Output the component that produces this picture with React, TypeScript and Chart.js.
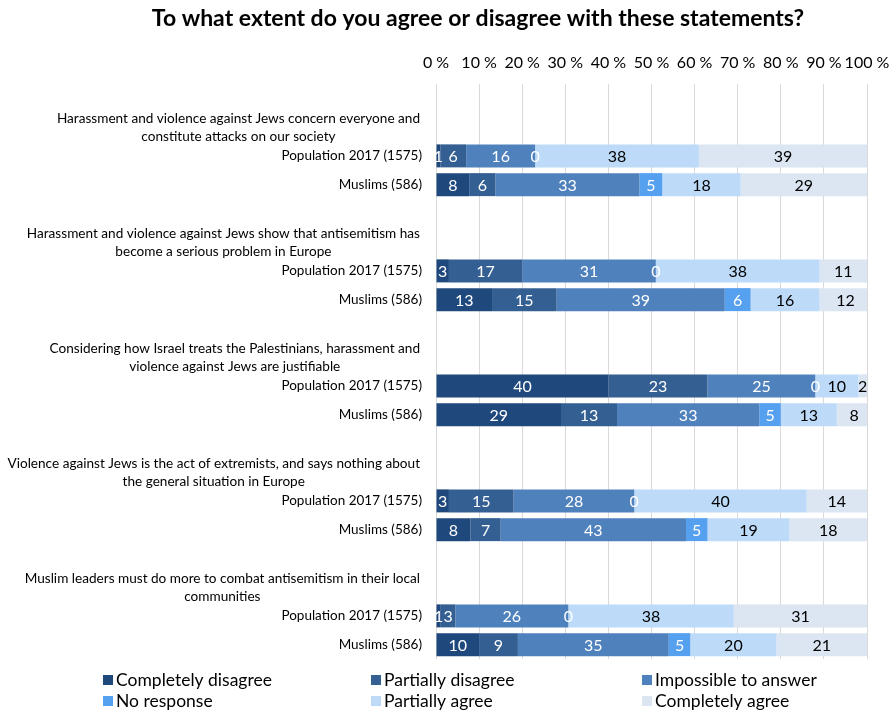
import { useEffect, useRef } from 'react';
import { Chart, registerables } from 'chart.js';

Chart.register(...registerables);

const FONT = 'Lato, "Noto Sans", sans-serif';

const chartTitle = 'To what extent do you agree or disagree with these statements?';

const statements: string[][] = [
  ['Harassment and violence against Jews concern everyone and', 'constitute attacks on our society'],
  ['Harassment and violence against Jews show that antisemitism has', 'become a serious problem in Europe'],
  ['Considering how Israel treats the Palestinians, harassment and', 'violence against Jews are justifiable'],
  ['Violence against Jews is the act of extremists, and says nothing about', 'the general situation in Europe'],
  ['Muslim leaders must do more to combat antisemitism in their local', 'communities'],
];

const groupLabels = ['Population 2017 (1575)', 'Muslims (586)'];

const seriesNames = [
  'Completely disagree',
  'Partially disagree',
  'Impossible to answer',
  'No response',
  'Partially agree',
  'Completely agree',
];

// rows: [S1 pop, S1 mus, S2 pop, S2 mus, ...] (percent, shown rounded)
const completelyDisagree = [1, 7.7, 3, 13, 40, 29, 3, 8, 1.1, 10];
const partiallyDisagree = [6, 6.1, 17, 15, 23, 13, 15, 7, 3.4, 9];
const impossibleToAnswer = [16, 33.4, 31, 39, 25, 33, 28, 43, 26.2, 35];
const noResponse = [0, 5.3, 0, 6, 0, 5, 0, 5, 0, 5];
const partiallyAgree = [38, 18.2, 38, 16, 10, 13, 40, 19, 38.4, 20];
const completelyAgree = [39, 29.3, 11, 12, 2, 8, 14, 18, 30.9, 21];

const xTicks = [0, 10, 20, 30, 40, 50, 60, 70, 80, 90, 100];

const seriesColors = ['#1f487c', '#345f92', '#4f81bd', '#56a0f0', '#bddbf8', '#dce6f2'];
const labelColors = ['#ffffff', '#ffffff', '#ffffff', '#ffffff', '#000000', '#000000'];

export default function App() {
  const ref = useRef<HTMLCanvasElement>(null);

  useEffect(() => {
    document.body.style.margin = '0';
    const canvas = ref.current;
    if (!canvas) return;

    const labels: string[] = [];
    statements.forEach(() => {
      labels.push('', '', groupLabels[0], groupLabels[1]);
    });
    const expand = (arr: number[]) => {
      const out: (number | null)[] = [];
      for (let g = 0; g < statements.length; g++) {
        out.push(null, null, arr[2 * g], arr[2 * g + 1]);
      }
      return out;
    };
    const seriesValues = [
      completelyDisagree,
      partiallyDisagree,
      impossibleToAnswer,
      noResponse,
      partiallyAgree,
      completelyAgree,
    ];

    const datasets = seriesNames.map((name, i) => ({
      label: name,
      data: expand(seriesValues[i]),
      backgroundColor: seriesColors[i],
      borderWidth: 0,
      categoryPercentage: 1,
      barPercentage: 0.8,
    }));

    const titlePlugin = {
      id: 'customTitle',
      afterDraw(chart: any) {
        const ctx = chart.ctx;
        ctx.save();
        ctx.font = `bold 23px ${FONT}`;
        ctx.fillStyle = '#000';
        ctx.textAlign = 'center';
        ctx.textBaseline = 'middle';
        ctx.fillText(chartTitle, 478, 19);
        ctx.restore();
      },
    };

    const headingPlugin = {
      id: 'headings',
      afterDraw(chart: any) {
        const ctx = chart.ctx;
        const yScale = chart.scales.y;
        ctx.save();
        ctx.font = `13.6px ${FONT}`;
        ctx.fillStyle = '#000';
        ctx.textAlign = 'center';
        ctx.textBaseline = 'middle';
        statements.forEach((lines, g) => {
          const yc = yScale.getPixelForValue(4 * g + 1);
          const w = Math.max(...lines.map((l) => ctx.measureText(l).width));
          const cx = 420 - w / 2;
          const lh = 18;
          lines.forEach((l, k) => {
            ctx.fillText(l, cx, yc + (k - (lines.length - 1) / 2) * lh);
          });
        });
        ctx.restore();
      },
    };

    const dataLabelPlugin = {
      id: 'segLabels',
      afterDatasetsDraw(chart: any) {
        const ctx = chart.ctx;
        ctx.save();
        ctx.font = `16px ${FONT}`;
        ctx.textAlign = 'center';
        ctx.textBaseline = 'middle';
        chart.data.datasets.forEach((ds: any, i: number) => {
          const meta = chart.getDatasetMeta(i);
          meta.data.forEach((el: any, j: number) => {
            const v = ds.data[j];
            if (v === null || v === undefined) return;
            ctx.fillStyle = labelColors[i];
            ctx.fillText(String(Math.round(v)), (el.x + el.base) / 2, el.y + 1);
          });
        });
        ctx.restore();
      },
    };

    const legendPlugin = {
      id: 'customLegend',
      afterDraw(chart: any) {
        const ctx = chart.ctx;
        const cols = [103, 371, 642];
        const rows = [680, 701];
        ctx.save();
        ctx.font = `17.5px ${FONT}`;
        ctx.textAlign = 'left';
        ctx.textBaseline = 'middle';
        chart.data.datasets.forEach((ds: any, i: number) => {
          const x = cols[i % 3];
          const y = rows[Math.floor(i / 3)];
          ctx.fillStyle = seriesColors[i];
          ctx.fillRect(x, y - 5, 10, 10);
          ctx.fillStyle = '#000';
          ctx.fillText(ds.label, x + 13, y);
        });
        ctx.restore();
      },
    };

    const chart = new Chart(canvas, {
      type: 'bar',
      data: { labels, datasets },
      options: {
        indexAxis: 'y',
        responsive: false,
        animation: false,
        layout: { padding: { top: 40, left: 0, right: 27, bottom: 52 } },
        plugins: {
          legend: { display: false },
          title: { display: false },
          tooltip: { enabled: false },
        },
        scales: {
          x: {
            type: 'linear',
            position: 'top',
            stacked: true,
            min: 0,
            max: 100,
            afterBuildTicks(scale: any) {
              scale.ticks = xTicks.map((v) => ({ value: v }));
            },
            afterFit(scale: any) {
              scale.height = 44;
              scale.paddingLeft = 0;
              scale.paddingRight = 0;
            },
            ticks: {
              callback: (v: any) => `${v} %`,
              font: { family: FONT, size: 16 },
              color: '#000',
              padding: 12,
              maxRotation: 0,
              autoSkip: false,
            },
            grid: { color: '#d9d9d9', drawTicks: false },
            border: { display: false },
          },
          y: {
            type: 'category',
            stacked: true,
            afterFit(scale: any) {
              scale.width = 436;
            },
            ticks: {
              font: { family: FONT, size: 13.5 },
              color: '#000',
              padding: 14,
              autoSkip: false,
            },
            grid: { display: false, drawTicks: false },
            border: { display: false },
          },
        },
      },
      plugins: [titlePlugin, headingPlugin, dataLabelPlugin, legendPlugin],
    });

    return () => chart.destroy();
  }, []);

  return <canvas ref={ref} width={894} height={711} style={{ display: 'block' }} />;
}
